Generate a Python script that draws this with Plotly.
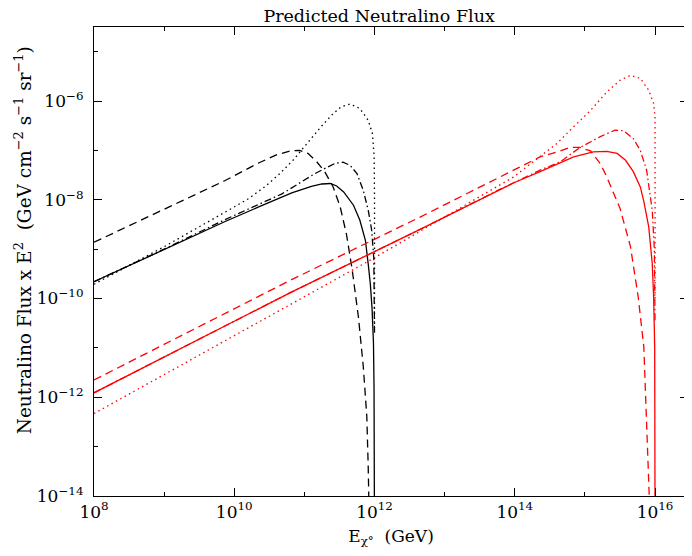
import numpy as np
import plotly.graph_objects as go

# log10 of energy (GeV) and log10 of flux x E^2
bk_solid_x = [8.0, 9.0, 9.87, 10.34, 10.82, 11.10, 11.25, 11.37, 11.46, 11.56, 11.70, 11.79, 11.87, 11.91, 11.94, 11.965, 11.985, 11.993, 11.999]
bk_solid_y = [-9.66, -9.00, -8.44, -8.15, -7.86, -7.73, -7.68, -7.67, -7.72, -7.84, -8.11, -8.41, -8.82, -9.30, -9.70, -10.2, -10.9, -11.8, -14.5]

bk_dash_x = [8.0, 9.51, 9.87, 10.34, 10.60, 10.80, 10.93, 11.05, 11.17, 11.29, 11.41, 11.51, 11.60, 11.68, 11.77, 11.84, 11.89, 11.91, 11.925]
bk_dash_y = [-8.86, -7.86, -7.61, -7.26, -7.09, -7.01, -7.00, -7.06, -7.22, -7.43, -7.74, -8.14, -8.70, -9.40, -10.37, -11.38, -12.39, -13.41, -14.5]

bk_dot_x = [8.0, 9.0, 9.87, 10.20, 10.45, 10.65, 10.85, 11.05, 11.25, 11.40, 11.52, 11.65, 11.79, 11.91, 11.97, 11.995, 12.0, 12.0]
bk_dot_y = [-9.71, -8.95, -8.25, -7.98, -7.72, -7.47, -7.18, -6.84, -6.50, -6.27, -6.12, -6.06, -6.15, -6.39, -6.66, -7.13, -8.0, -10.6]

bk_dashdot_x = [8.0, 9.0, 9.87, 10.34, 10.68, 10.91, 11.15, 11.30, 11.44, 11.55, 11.65, 11.75, 11.84, 11.91, 11.96, 11.99, 12.0]
bk_dashdot_y = [-9.66, -9.00, -8.40, -8.09, -7.88, -7.68, -7.47, -7.36, -7.26, -7.24, -7.30, -7.47, -7.81, -8.21, -8.62, -9.2, -10.7]

rd_solid_x = [8.0, 10.8, 12.65, 13.98, 14.36, 14.84, 15.12, 15.31, 15.46, 15.58, 15.69, 15.79, 15.84, 15.91, 15.96, 15.98, 15.995, 16.0]
rd_solid_y = [-11.91, -9.88, -8.60, -7.66, -7.43, -7.13, -7.03, -7.02, -7.06, -7.20, -7.43, -7.74, -8.03, -8.55, -9.29, -9.97, -10.98, -14.5]

rd_dash_x = [8.0, 10.8, 12.65, 14.36, 14.65, 14.79, 14.93, 15.08, 15.22, 15.31, 15.41, 15.50, 15.65, 15.76, 15.84, 15.88, 15.92, 15.93]
rd_dash_y = [-11.65, -9.63, -8.35, -7.13, -7.01, -6.94, -6.94, -7.01, -7.27, -7.53, -7.87, -8.17, -8.95, -9.97, -10.98, -12.33, -13.95, -14.5]

rd_dot_x = [8.0, 11.98, 13.98, 14.60, 14.84, 15.08, 15.31, 15.50, 15.65, 15.79, 15.91, 15.98, 16.0, 16.0]
rd_dot_y = [-12.33, -9.19, -7.54, -6.86, -6.52, -6.19, -5.82, -5.58, -5.48, -5.54, -5.78, -6.05, -6.32, -10.0]

rd_dashdot_x = [8.0, 10.8, 12.65, 13.8, 14.36, 14.65, 14.93, 15.22, 15.43, 15.55, 15.69, 15.79, 15.88, 15.93, 15.96, 15.99, 16.0]
rd_dashdot_y = [-11.91, -9.88, -8.60, -7.78, -7.40, -7.23, -6.94, -6.72, -6.59, -6.60, -6.76, -7.00, -7.40, -7.87, -8.21, -9.0, -10.5]

x_tick_exp = [8, 10, 12, 14, 16]
y_tick_exp = [-14, -12, -10, -8, -6]
x_minor_exp = [9, 11, 13, 15]
y_minor_exp = [-13, -11, -9, -7, -5]

FONT = "DejaVu Serif"
RED = "#ff0000"

curves = [
    (bk_solid_x, bk_solid_y, "black", "solid"),
    (bk_dash_x, bk_dash_y, "black", "8px,5px"),
    (bk_dot_x, bk_dot_y, "black", "1.5px,3.5px"),
    (bk_dashdot_x, bk_dashdot_y, "black", "7px,3px,1.5px,3px"),
    (rd_solid_x, rd_solid_y, RED, "solid"),
    (rd_dash_x, rd_dash_y, RED, "8px,5px"),
    (rd_dot_x, rd_dot_y, RED, "1.5px,3.5px"),
    (rd_dashdot_x, rd_dashdot_y, RED, "7px,3px,1.5px,3px"),
]

fig = go.Figure()
for lx, ly, col, dash in curves:
    fig.add_trace(go.Scatter(
        x=np.power(10.0, lx), y=np.power(10.0, ly),
        mode="lines", line=dict(color=col, width=1.3, dash=dash),
        showlegend=False
    ))


def sup_label(e):
    return "10<sup>%d</sup>" % e


axis_common = dict(
    type="log", automargin=False,
    showgrid=False, zeroline=False,
    showline=True, linecolor="black", linewidth=1.2, mirror="allticks",
    ticks="inside", ticklen=8, tickcolor="black", tickwidth=1.2,
    tickfont=dict(family=FONT, size=17, color="black"),
)

fig.update_xaxes(
    range=[8, 16.47],
    tickvals=[10.0 ** e for e in x_tick_exp],
    ticktext=[sup_label(e) for e in x_tick_exp],
    minor=dict(tickvals=[10.0 ** e for e in x_minor_exp], ticks="inside",
               ticklen=4, tickcolor="black", tickwidth=1.2),
    title=dict(text="E<sub>χ°</sub>  (GeV)", font=dict(family=FONT, size=17, color="black"),
               standoff=9),
    **axis_common
)
fig.update_yaxes(
    range=[-14, -4.5],
    tickvals=[10.0 ** e for e in y_tick_exp],
    ticktext=[sup_label(e).replace("-", "−") for e in y_tick_exp],
    minor=dict(tickvals=[10.0 ** e for e in y_minor_exp], ticks="inside",
               ticklen=4, tickcolor="black", tickwidth=1.2),
    ticklabelstandoff=6,
    **axis_common
)

fig.add_annotation(
    text="Neutralino Flux x E<sup>2</sup>  (GeV cm<sup>−2</sup> s<sup>−1</sup> sr<sup>−1</sup>)",
    xref="paper", yref="paper", x=-0.118, y=0.545, xanchor="center", yanchor="middle",
    textangle=-90, showarrow=False, font=dict(family=FONT, size=18.5, color="black")
)

# the page body has an 8px margin, so the figure is sized 8px smaller
fig.update_layout(
    width=684, height=548,
    paper_bgcolor="white", plot_bgcolor="white",
    margin=dict(l=86, r=4, t=19, b=60),
    title=dict(text="Predicted Neutralino Flux", x=0.48, xref="paper", xanchor="center",
               y=0.996, yref="container", yanchor="top",
               font=dict(family=FONT, size=17.5, color="black")),
)

fig.write_html("out.html")
